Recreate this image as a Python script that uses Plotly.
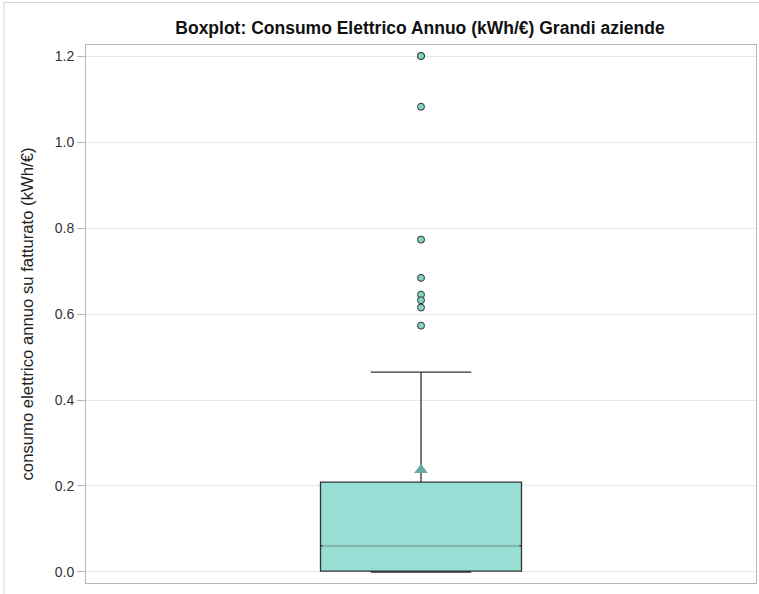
import plotly.graph_objects as go

# summary statistics
q1 = [0.002]
median = [0.061]
q3 = [0.209]
lower_fence = [0.0]
upper_fence = [0.465]
mean_value = [0.237]
outliers = [1.2, 1.2, 1.082, 0.773, 0.684, 0.645, 0.632, 0.615, 0.573]

title = "Boxplot: Consumo Elettrico Annuo (kWh/€) Grandi aziende"
y_label = "consumo elettrico annuo su fatturato (kWh/€)"
y_ticks = [0.0, 0.2, 0.4, 0.6, 0.8, 1.0, 1.2]

box_width = 0.3
font = "Liberation Sans, Arial, sans-serif"

fig = go.Figure()

# box with whiskers and caps
fig.add_trace(go.Box(
    x=[0], q1=q1, median=median, q3=q3,
    lowerfence=lower_fence, upperfence=upper_fence,
    width=box_width, whiskerwidth=0.5,
    fillcolor="#97dfd4", line=dict(color="#333333", width=1.3),
    boxpoints=False, showlegend=False, hoverinfo="skip",
))

# median drawn again in a lighter tone, like the original
fig.add_trace(go.Scatter(
    x=[-box_width / 2 + 0.003, box_width / 2 - 0.003], y=median * 2,
    mode="lines", line=dict(color="#8bbdb6", width=2),
    showlegend=False, hoverinfo="skip",
))

# mean marker
fig.add_trace(go.Scatter(
    x=[0], y=mean_value, mode="markers",
    marker=dict(symbol="triangle-up", size=12, color="#67aaa6"),
    showlegend=False,
))

# outliers
fig.add_trace(go.Scatter(
    x=[0] * len(outliers), y=outliers, mode="markers",
    marker=dict(symbol="circle", size=7, color="#7fd4c6",
                line=dict(color="#333333", width=1)),
    showlegend=False,
))

fig.update_layout(
    width=759, height=594,
    margin=dict(l=86, r=3, t=45, b=11),
    paper_bgcolor="white", plot_bgcolor="white",
    font=dict(family=font, size=14, color="#333333"),
    title=dict(text="<b>" + title + "</b>", x=420 / 759, xanchor="center",
               y=1 - 28 / 594, yanchor="middle",
               font=dict(size=17.5, color="#111111")),
    shapes=[dict(type="rect", xref="paper", yref="paper",
                 x0=-0.1224, x1=1.2, y0=-0.2, y1=1.079,
                 line=dict(color="#d4d4d4", width=1), layer="below")],
)

fig.update_xaxes(
    range=[-0.5, 0.5], showticklabels=False, showgrid=False, zeroline=False,
    showline=True, mirror=True, linecolor="#b4b8bc", linewidth=1, ticks="",
)
fig.update_yaxes(
    range=[-0.0256, 1.2256], tickvals=y_ticks, tickformat=".1f",
    showgrid=True, gridcolor="#e8e8e8", zeroline=False,
    showline=True, mirror=True, linecolor="#b4b8bc", linewidth=1,
    ticks="outside", ticklen=8, tickcolor="#b4b8bc",
    tickfont=dict(size=14, color="#333333"),
    title=dict(text=y_label, standoff=16, font=dict(size=16.7, color="#222222")),
)

fig.write_html("out.html", config={"displayModeBar": False},
               post_script="document.body.style.margin = '0';")
